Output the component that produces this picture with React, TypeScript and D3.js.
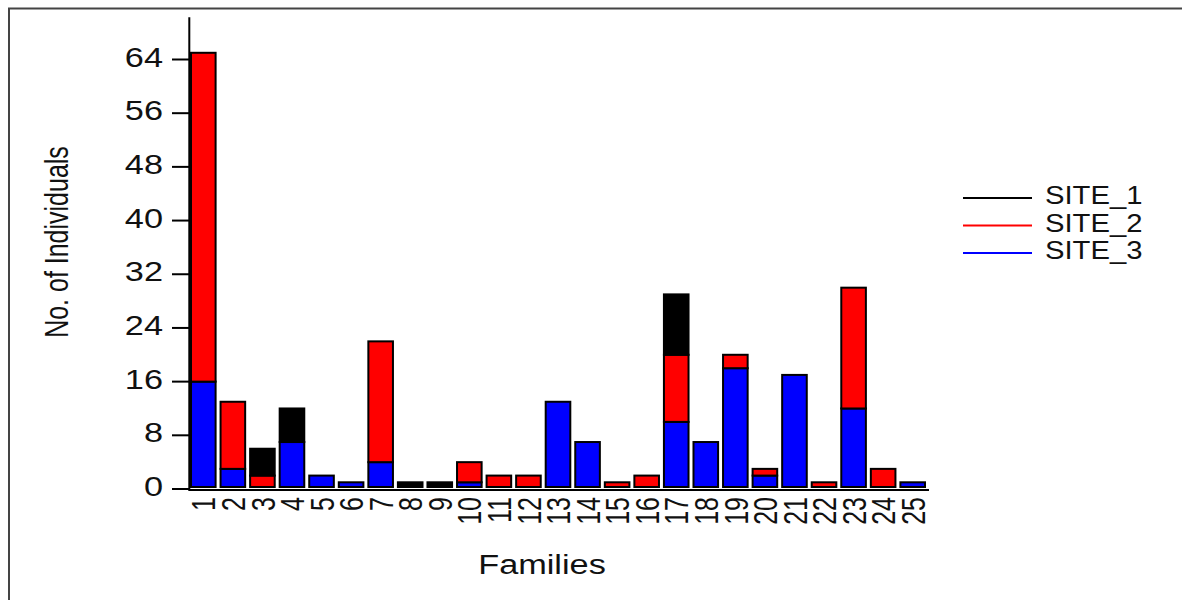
import React from "react";
import * as d3 from "d3";

const families = ["1","2","3","4","5","6","7","8","9","10","11","12","13","14","15","16","17","18","19","20","21","22","23","24","25"];
const site1 = [0,0,4,5,0,0,0,1,1,0,0,0,0,0,0,0,9,0,0,0,0,0,0,0,0];
const site2 = [49,10,2,0,0,0,18,0,0,3,2,2,0,0,1,2,10,0,2,1,0,1,18,3,0];
const site3 = [16,3,0,7,2,1,4,0,0,1,0,0,13,7,0,0,10,7,18,2,17,0,12,0,1];
const yTicks = [0,8,16,24,32,40,48,56,64];
const seriesNames = ["SITE_1","SITE_2","SITE_3"];
const seriesColors = ["#000000","#ff0000","#0000ff"];

const W = 1182, H = 600;
const FONT = "'Liberation Sans', Arial, sans-serif";

export default function App() {
  const x = d3.scaleBand<string>().domain(families).range([190, 926]).paddingInner(0.1).paddingOuter(0);
  const y = d3.scaleLinear().domain([0, 64]).range([489, 59.5]);
  const yTop = y(70.3);
  const axisX = 189.3;

  // stacking: SITE_3 bottom, SITE_2 middle, SITE_1 top
  const rows = families.map((f, i) => ({ fam: f, SITE_3: site3[i], SITE_2: site2[i], SITE_1: site1[i] }));
  const stack = d3.stack<any>().keys(["SITE_3", "SITE_2", "SITE_1"]);
  const layers = stack(rows);
  const colorOf: Record<string, string> = { SITE_1: "#000000", SITE_2: "#ff0000", SITE_3: "#0000ff" };

  const sx = 1.27;
  const base = y(0) - 2;

  return (
    <svg width={W} height={H} style={{ position: "absolute", left: 0, top: 0, background: "#fff" }} fontFamily={FONT}>
      <rect x={0} y={0} width={W} height={H} fill="#fff" />
      <path d={`M9,${H} V8.5 H${W}`} fill="none" stroke="#444" strokeWidth={2} />

      {/* bars */}
      {layers.map((layer) =>
        layer.map((d, i) => {
          const v = d[1] - d[0];
          if (v <= 0) return null;
          const top = y(d[1]);
          const bot = d[0] === 0 ? base : y(d[0]);
          return (
            <rect
              key={layer.key + i}
              x={(x(families[i]) as number) + 1}
              y={top}
              width={x.bandwidth() - 2}
              height={Math.max(bot - top, 1)}
              fill={colorOf[layer.key]}
              stroke="#000"
              strokeWidth={2}
            />
          );
        })
      )}

      {/* y axis */}
      <line x1={axisX} x2={axisX} y1={yTop} y2={y(0) + 1} stroke="#000" strokeWidth={2} />
      {yTicks.map((t) => (
        <g key={t}>
          <line x1={172} x2={axisX} y1={y(t)} y2={y(t)} stroke="#000" strokeWidth={2} />
          <text
            transform={`translate(163,${y(t) + 7}) scale(${sx},1)`}
            textAnchor="end"
            fontSize={27}
            fill="#111"
          >
            {t}
          </text>
        </g>
      ))}

      {/* x axis */}
      <line x1={axisX - 1} x2={929} y1={y(0) + 1} y2={y(0) + 1} stroke="#000" strokeWidth={2} />
      {families.map((f) => (
        <text
          key={f}
          transform={`translate(${(x(f) as number) + x.bandwidth() / 2},497) scale(1.35,1) rotate(-90)`}
          textAnchor="end"
          dy="0.36em"
          fontSize={25}
          fill="#111"
        >
          {f}
        </text>
      ))}

      {/* axis titles */}
      <text transform={`translate(542,574) scale(${sx},1)`} textAnchor="middle" fontSize={27} fill="#111">
        Families
      </text>
      <text transform={`translate(68,242) scale(1.3,1) rotate(-90)`} textAnchor="middle" fontSize={25} fill="#111">
        No. of Individuals
      </text>

      {/* legend */}
      {seriesNames.map((s, i) => {
        const ly = 198 + i * 27.5;
        return (
          <g key={s}>
            <line x1={963} x2={1032} y1={ly} y2={ly} stroke={seriesColors[i]} strokeWidth={2} />
            <text transform={`translate(1045,${ly + 6}) scale(1.17,1)`} fontSize={25} fill="#111">
              {s}
            </text>
          </g>
        );
      })}
    </svg>
  );
}
